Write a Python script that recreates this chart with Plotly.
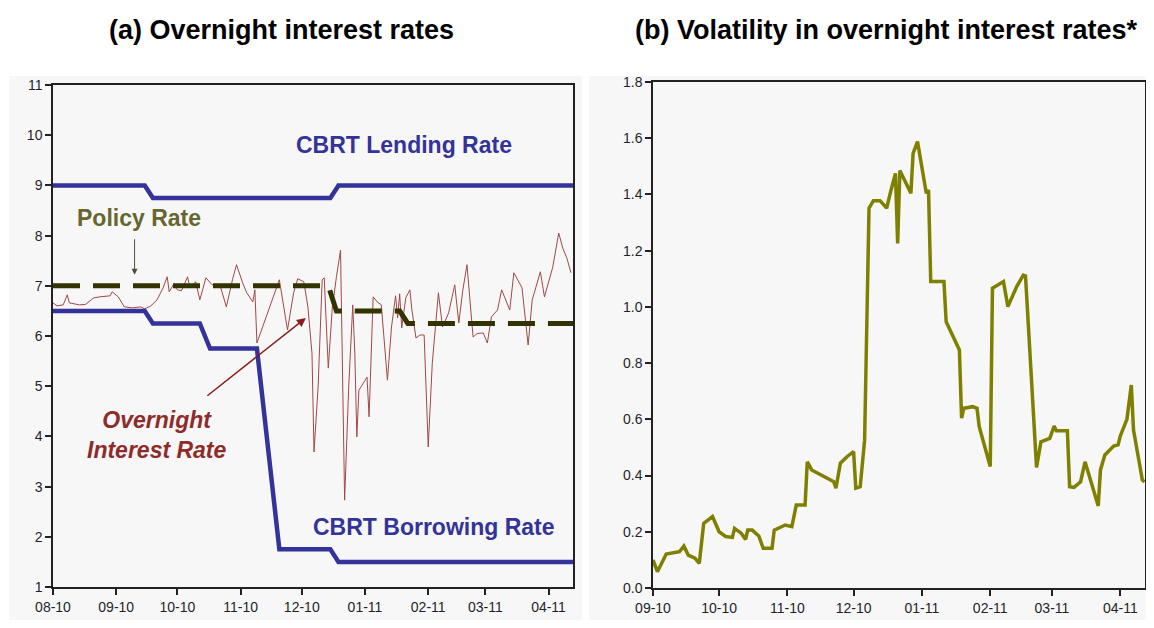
import plotly.graph_objects as go

# ---- (a) overnight rates ----
on_dates = [
    "2010-08-01", "2010-08-03", "2010-08-06", "2010-08-08", "2010-08-09", "2010-08-14",
    "2010-08-17", "2010-08-21", "2010-08-24", "2010-08-29", "2010-08-30", "2010-09-02",
    "2010-09-05", "2010-09-09", "2010-09-13", "2010-09-15", "2010-09-18", "2010-09-21",
    "2010-09-24", "2010-09-26", "2010-09-27", "2010-09-29", "2010-10-01", "2010-10-03",
    "2010-10-06", "2010-10-07", "2010-10-10", "2010-10-12", "2010-10-15", "2010-10-18",
    "2010-10-22", "2010-10-25", "2010-10-28", "2010-10-30", "2010-11-02", "2010-11-04",
    "2010-11-07", "2010-11-08", "2010-11-09", "2010-11-20", "2010-11-24", "2010-11-27",
    "2010-11-29", "2010-11-30", "2010-12-02", "2010-12-04", "2010-12-06", "2010-12-07",
    "2010-12-09", "2010-12-11", "2010-12-12", "2010-12-14", "2010-12-16", "2010-12-18",
    "2010-12-20", "2010-12-22", "2010-12-24", "2010-12-26", "2010-12-27", "2010-12-28",
    "2010-12-29", "2011-01-02", "2011-01-03", "2011-01-05", "2011-01-07", "2011-01-09",
    "2011-01-12", "2011-01-14", "2011-01-16", "2011-01-17", "2011-01-18", "2011-01-19",
    "2011-01-21", "2011-01-23", "2011-01-24", "2011-01-26", "2011-01-28", "2011-01-30",
    "2011-02-01", "2011-02-03", "2011-02-06", "2011-02-08", "2011-02-11", "2011-02-14",
    "2011-02-16", "2011-02-18", "2011-02-20", "2011-02-23", "2011-02-25", "2011-02-28",
    "2011-03-02", "2011-03-04", "2011-03-07", "2011-03-09", "2011-03-13", "2011-03-15",
    "2011-03-19", "2011-03-22", "2011-03-24", "2011-03-28", "2011-03-30", "2011-04-03",
    "2011-04-06", "2011-04-08", "2011-04-10", "2011-04-12",
]
on_rate = [
    6.66, 6.60, 6.62, 6.82, 6.66, 6.62,
    6.63, 6.76, 6.78, 6.80, 6.88, 6.78,
    6.58, 6.56, 6.58, 6.54, 6.60, 6.72,
    6.96, 7.18, 6.88, 7.02, 6.92, 6.90,
    7.18, 6.98, 7.08, 6.72, 7.16, 7.02,
    7.00, 6.58, 7.12, 7.42, 7.06, 6.86,
    6.68, 6.92, 5.86, 7.12, 6.12, 6.86,
    7.14, 7.12, 7.08, 6.58, 5.66, 3.69,
    4.98, 7.12, 7.16, 5.36, 6.58, 7.18,
    7.71, 2.73, 4.98, 6.62, 5.66, 3.99,
    4.92, 5.18, 4.39, 6.78, 6.68, 6.62,
    5.12, 6.18, 6.80, 6.36, 6.84, 6.16,
    6.76, 6.92, 6.52, 5.96, 6.02, 6.02,
    3.79, 5.46, 6.86, 6.18, 6.46, 7.02,
    6.26, 6.92, 7.42, 5.98, 6.05, 6.06,
    5.86, 6.38, 6.52, 6.92, 6.52, 7.26,
    6.96, 5.82, 6.72, 7.28, 6.78, 7.36,
    8.05, 7.75, 7.55, 7.26,
]

policy_dates = ["2010-08-01", "2010-12-14", "2010-12-18", "2011-01-18", "2011-01-22", "2011-04-13"]
policy_rate = [7.0, 7.0, 6.5, 6.5, 6.25, 6.25]

lend_dates = ["2010-08-01", "2010-09-15", "2010-09-19", "2010-12-15", "2010-12-19", "2011-04-13"]
lend_rate = [9.0, 9.0, 8.75, 8.75, 9.0, 9.0]

borr_dates = ["2010-08-01", "2010-09-15", "2010-09-19", "2010-10-12", "2010-10-17",
              "2010-11-09", "2010-11-20", "2010-12-15", "2010-12-19", "2011-04-13"]
borr_rate = [6.5, 6.5, 6.25, 6.25, 5.75, 5.75, 1.75, 1.75, 1.5, 1.5]

# ---- (b) volatility ----
vol_dates = [
    "2010-09-01", "2010-09-03", "2010-09-07", "2010-09-13", "2010-09-15", "2010-09-17",
    "2010-09-20", "2010-09-22", "2010-09-24", "2010-09-28", "2010-10-01", "2010-10-04",
    "2010-10-07", "2010-10-08", "2010-10-11", "2010-10-13", "2010-10-14", "2010-10-16",
    "2010-10-19", "2010-10-21", "2010-10-25", "2010-10-26", "2010-10-31", "2010-11-03",
    "2010-11-05", "2010-11-09", "2010-11-10", "2010-11-12", "2010-11-22", "2010-11-23",
    "2010-11-25", "2010-11-28", "2010-12-01", "2010-12-02", "2010-12-04", "2010-12-06",
    "2010-12-08", "2010-12-10", "2010-12-13", "2010-12-16", "2010-12-18", "2010-12-20",
    "2010-12-21", "2010-12-22", "2010-12-27", "2010-12-28", "2010-12-30", "2011-01-03",
    "2011-01-04", "2011-01-05", "2011-01-11", "2011-01-12", "2011-01-18", "2011-01-19",
    "2011-01-20", "2011-01-24", "2011-01-26", "2011-01-27", "2011-02-01", "2011-02-02",
    "2011-02-07", "2011-02-09", "2011-02-13", "2011-02-16", "2011-02-17", "2011-02-22",
    "2011-02-24", "2011-02-28", "2011-03-02", "2011-03-03", "2011-03-08", "2011-03-09",
    "2011-03-11", "2011-03-14", "2011-03-16", "2011-03-22", "2011-03-23", "2011-03-25",
    "2011-03-29", "2011-03-31", "2011-04-01", "2011-04-04", "2011-04-06", "2011-04-07",
    "2011-04-11", "2011-04-12",
]
vol = [
    0.100, 0.058, 0.121, 0.129, 0.149, 0.117,
    0.106, 0.088, 0.230, 0.254, 0.200, 0.183,
    0.180, 0.212, 0.195, 0.173, 0.206, 0.206,
    0.185, 0.141, 0.141, 0.206, 0.224, 0.218,
    0.295, 0.295, 0.449, 0.420, 0.378, 0.355,
    0.444, 0.467, 0.485, 0.355, 0.360, 0.526,
    1.351, 1.378, 1.378, 1.351, 1.416, 1.475,
    1.226, 1.485, 1.404, 1.546, 1.588, 1.404,
    1.416, 1.090, 1.090, 0.947, 0.847, 0.604,
    0.639, 0.645, 0.639, 0.574, 0.432, 1.066,
    1.090, 1.001, 1.072, 1.113, 1.110, 0.429,
    0.520, 0.532, 0.576, 0.559, 0.559, 0.360,
    0.358, 0.378, 0.449, 0.292, 0.420, 0.473,
    0.505, 0.509, 0.541, 0.600, 0.722, 0.562,
    0.384, 0.378,
]

left_ticks = [1, 2, 3, 4, 5, 6, 7, 8, 9, 10, 11]
right_ticks = [0.0, 0.2, 0.4, 0.6, 0.8, 1.0, 1.2, 1.4, 1.6, 1.8]

BLUE = "#333399"
BG = "#f7f7f7"
# page body has an 8px margin; keep the figure inside the window so nothing scrolls
OFF = 8
W, H = 1154 - 2 * OFF, 628 - 2 * OFF

fig = go.Figure()
fig.add_trace(go.Scatter(x=on_dates, y=on_rate, mode="lines",
                         line=dict(color="#a04848", width=1), xaxis="x", yaxis="y"))
fig.add_trace(go.Scatter(x=lend_dates, y=lend_rate, mode="lines",
                         line=dict(color=BLUE, width=4.5), xaxis="x", yaxis="y"))
fig.add_trace(go.Scatter(x=borr_dates, y=borr_rate, mode="lines",
                         line=dict(color=BLUE, width=4.5), xaxis="x", yaxis="y"))
fig.add_trace(go.Scatter(x=policy_dates, y=policy_rate, mode="lines",
                         line=dict(color="#333300", width=5, dash="27px,13px"),
                         xaxis="x", yaxis="y"))
fig.add_trace(go.Scatter(x=vol_dates, y=vol, mode="lines",
                         line=dict(color="#7f7f00", width=3.5), xaxis="x2", yaxis="y2"))

tickfont = dict(family="Arial, Liberation Sans", size=14, color="#1f1f2a")
axis_common = dict(showline=True, linecolor="#222", linewidth=1.5, mirror=True,
                   ticks="outside", ticklen=6, tickwidth=1.5, tickcolor="#222",
                   showgrid=False, zeroline=False, tickfont=tickfont, automargin=False)

def px_x(p):
    return (p - OFF) / W

def px_y(p):
    return 1 - (p - OFF) / H

fig.update_layout(
    width=W, height=H,
    margin=dict(l=0, r=0, t=0, b=0, autoexpand=False),
    paper_bgcolor="white",
    plot_bgcolor=BG,
    showlegend=False,
    xaxis=dict(domain=[px_x(53), px_x(573)], anchor="y", type="date",
               range=["2010-08-01", "2011-04-13"], tickformat="%m-%y",
               dtick="M1", tick0="2010-08-01", **axis_common),
    yaxis=dict(domain=[px_y(587), px_y(85)], anchor="x", range=[1, 11],
               tickvals=left_ticks, **axis_common),
    xaxis2=dict(domain=[px_x(653), px_x(1145)], anchor="y2", type="date",
                range=["2010-09-01", "2011-04-12 05:00"], tickformat="%m-%y",
                dtick="M1", tick0="2010-09-01", **axis_common),
    yaxis2=dict(domain=[px_y(588), px_y(82)], anchor="x2", range=[0, 1.8],
                tickvals=right_ticks, tickformat=".1f", **axis_common),
    shapes=[
        dict(type="rect", xref="paper", yref="paper", x0=px_x(9), x1=px_x(582),
             y0=0, y1=px_y(76), fillcolor=BG, line=dict(width=0), layer="below"),
        dict(type="rect", xref="paper", yref="paper", x0=px_x(589), x1=1,
             y0=0, y1=px_y(76), fillcolor=BG, line=dict(width=0), layer="below"),
    ],
)

title_font = dict(family="Arial, Liberation Sans", size=27, color="black")
ann_font = dict(family="Arial, Liberation Sans", size=23)
fig.add_annotation(text="<b>(a) Overnight interest rates</b>", xref="paper", yref="paper",
                   x=px_x(281), y=px_y(30), xanchor="center", yanchor="middle",
                   showarrow=False, font=title_font)
fig.add_annotation(text="<b>(b) Volatility in overnight interest rates*</b>", xref="paper",
                   yref="paper", x=px_x(886), y=px_y(30), xanchor="center", yanchor="middle",
                   showarrow=False, font=title_font)

fig.add_annotation(text="<b>CBRT Lending Rate</b>", x="2011-01-20", y=9.8, xref="x", yref="y",
                   showarrow=False, font=dict(ann_font, color=BLUE))
fig.add_annotation(text="<b>CBRT Borrowing Rate</b>", x="2011-02-04", y=2.2, xref="x", yref="y",
                   showarrow=False, font=dict(ann_font, color=BLUE))
fig.add_annotation(text="<b>Policy Rate</b>", x="2010-09-12", y=8.35, xref="x", yref="y",
                   showarrow=False, font=dict(ann_font, color="#66662e"))
fig.add_annotation(text="", x="2010-09-10", y=7.22, xref="x", yref="y",
                   showarrow=True, ax=0, ay=-37, arrowhead=2, arrowsize=1.2,
                   arrowwidth=1, arrowcolor="#4d4d40")
fig.add_annotation(text="<b><i>Overnight<br>Interest Rate</i></b>", x="2010-09-21", y=4.03,
                   xref="x", yref="y", showarrow=False,
                   font=dict(ann_font, color="#8e2b2b"))
fig.add_annotation(text="", x="2010-12-03", y=6.36, xref="x", yref="y",
                   showarrow=True, ax=-100, ay=79, arrowhead=2, arrowsize=1.2,
                   arrowwidth=1.5, arrowcolor="#8b1a1a")

fig.write_html("out.html")
